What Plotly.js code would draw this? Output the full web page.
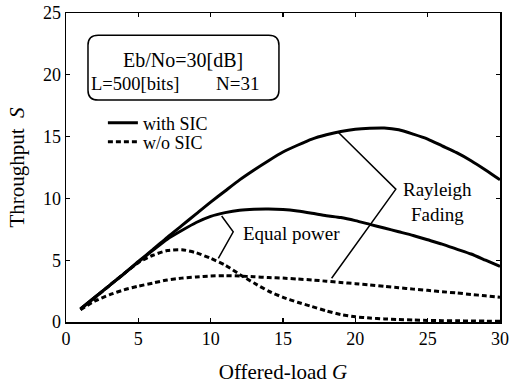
<!DOCTYPE html>
<html>
<head>
<meta charset="utf-8">
<script src="https://cdn.plot.ly/plotly-3.0.1.min.js"></script>
<style>html,body{margin:0;padding:0;background:#fff;}#chart{width:510px;height:390px;}</style>
</head>
<body>
<div id="chart"></div>
<script>
// Offered-load G
const G = [1,2,3,4,5,6,7,8,9,10,11,12,13,14,15,16,17,18,19,20,21,22,23,24,25,26,27,28,29,30];
// Throughput S, Rayleigh fading, with SIC
const rayleighSIC = [1.05,2.0,2.95,3.9,4.9,5.85,6.85,7.8,8.75,9.7,10.6,11.5,12.3,13.05,13.75,14.3,14.8,15.15,15.42,15.6,15.68,15.7,15.55,15.2,14.8,14.25,13.7,13.05,12.3,11.5];
// Throughput S, Rayleigh fading, w/o SIC
const rayleighNoSIC = [1.0,1.7,2.2,2.6,2.9,3.15,3.4,3.55,3.65,3.72,3.75,3.72,3.66,3.6,3.55,3.48,3.4,3.3,3.2,3.1,3.0,2.88,2.77,2.66,2.56,2.45,2.35,2.23,2.12,2.0];
// Throughput S, Equal power, with SIC
const equalSIC = [1.05,2.0,2.95,3.9,4.85,5.8,6.7,7.4,8.05,8.55,8.85,9.05,9.13,9.15,9.1,8.98,8.8,8.6,8.45,8.2,7.9,7.6,7.3,7.0,6.65,6.3,5.9,5.5,5.0,4.5];
// Throughput S, Equal power, w/o SIC
const equalNoSIC = [1.0,1.95,2.95,3.9,4.8,5.4,5.78,5.85,5.6,5.15,4.6,3.85,3.15,2.5,2.0,1.6,1.25,0.9,0.6,0.42,0.32,0.25,0.2,0.16,0.13,0.11,0.1,0.08,0.07,0.06];

const xTicks = [0,5,10,15,20,25,30];
const yTicks = [0,5,10,15,20,25];
const legendNames = ['with SIC','w/o SIC'];

const FONT = "'Liberation Serif', serif";
const solid = {color:'#000', width:3, shape:'spline', smoothing:0.6};
const dashed = {color:'#000', width:3, dash:'5px,3px', shape:'spline', smoothing:0.6};

const traces = [
  {x:G, y:rayleighSIC, mode:'lines', line:solid, name:legendNames[0], showlegend:true, legend:'legend'},
  {x:G, y:rayleighNoSIC, mode:'lines', line:dashed, name:legendNames[1], showlegend:true, legend:'legend2'},
  {x:G, y:equalSIC, mode:'lines', line:solid, name:'Equal power with SIC', showlegend:false},
  {x:G, y:equalNoSIC, mode:'lines', line:dashed, name:'Equal power w/o SIC', showlegend:false}
];

// rounded info box
const bx0=1.52, bx1=14.72, by0=17.96, by1=23.2, rx=0.7, ry=0.8;
const boxPath = `M ${bx0+rx},${by1} L ${bx1-rx},${by1} Q ${bx1},${by1} ${bx1},${by1-ry} L ${bx1},${by0+ry} Q ${bx1},${by0} ${bx1-rx},${by0} L ${bx0+rx},${by0} Q ${bx0},${by0} ${bx0},${by0+ry} L ${bx0},${by1-ry} Q ${bx0},${by1} ${bx0+rx},${by1} Z`;

const shapes = [
  {type:'path', xref:'x', yref:'y', path:boxPath, line:{color:'#000', width:1.5}},
  {type:'path', xref:'x', yref:'y', path:'M 18.8,15.37 L 22.8,10.75 L 18.36,3.54', line:{color:'#000', width:1.5}},
  {type:'path', xref:'x', yref:'y', path:'M 10.76,8.58 L 11.56,7.3 L 10.53,5.15', line:{color:'#000', width:1.5}}
];

const annFont = {family:FONT, size:19, color:'#000'};
const annotations = [
  {x:8.09, y:21.2, xref:'x', yref:'y', text:'Eb/No=30[dB]', showarrow:false, font:{family:FONT, size:20, color:'#000'}},
  {x:4.78, y:19.26, xref:'x', yref:'y', text:'L=500[bits]', showarrow:false, font:{family:FONT, size:18.5, color:'#000'}},
  {x:11.85, y:19.26, xref:'x', yref:'y', text:'N=31', showarrow:false, font:annFont},
  {x:25.7, y:9.7, xref:'x', yref:'y', text:'Rayleigh<br>Fading', showarrow:false, font:annFont},
  {x:15.6, y:7.17, xref:'x', yref:'y', text:'Equal power', showarrow:false, font:annFont}
];

const axisCommon = {
  showgrid:false, zeroline:false, showline:true, linecolor:'#000', linewidth:1.5,
  mirror:'ticks', ticks:'inside', ticklen:4, tickwidth:1.2, tickcolor:'#000',
  tickfont:{family:FONT, size:18, color:'#000'}, fixedrange:true
};

const legFont = {family:FONT, size:18, color:'#000'};
const layout = {
  width:510, height:390,
  margin:{l:66, r:10, t:13, b:68},
  paper_bgcolor:'#fff', plot_bgcolor:'#fff',
  font:{family:FONT, color:'#000'},
  xaxis:Object.assign({}, axisCommon, {range:[0,30], tickvals:xTicks, ticktext:xTicks.map(String),
    title:{text:'Offered-load <i>G</i>', font:{family:FONT, size:21, color:'#000'}, standoff:16}}),
  yaxis:Object.assign({}, axisCommon, {range:[0,25], tickvals:yTicks, ticktext:yTicks.map(String),
    title:{text:'Throughput&nbsp;&nbsp;<i>S</i>', font:{family:FONT, size:21, color:'#000'}, standoff:12}}),
  showlegend:true,
  legend:{x:0.085, y:0.644, xanchor:'left', yanchor:'middle', bgcolor:'rgba(0,0,0,0)', borderwidth:0,
    font:legFont, tracegroupgap:0},
  legend2:{x:0.085, y:0.582, xanchor:'left', yanchor:'middle', bgcolor:'rgba(0,0,0,0)', borderwidth:0,
    font:legFont, tracegroupgap:0},
  shapes:shapes,
  annotations:annotations
};

Plotly.newPlot('chart', traces, layout, {displayModeBar:false, staticPlot:true});
</script>
</body>
</html>
